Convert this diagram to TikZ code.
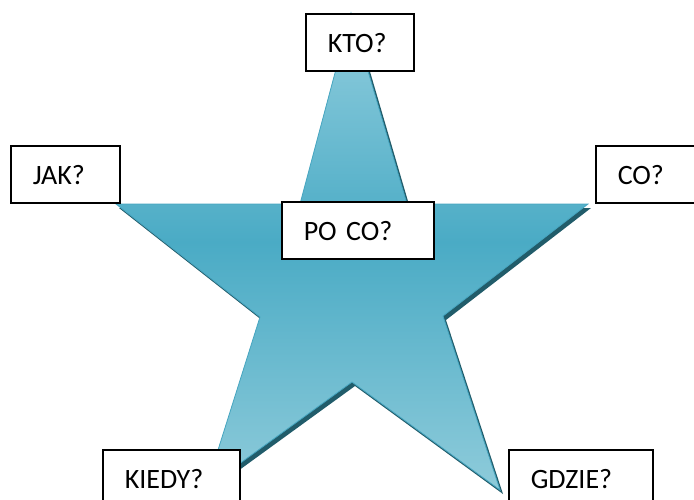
\documentclass[tikz,border=0pt]{standalone}
\usepackage{fontspec}
\setmainfont{Carlito}
\definecolor{starlight}{RGB}{146,206,222}
\definecolor{starlightb}{RGB}{142,203,218}
\definecolor{stardark}{RGB}{74,171,197}
\definecolor{starshadow}{RGB}{33,92,106}
\definecolor{staredge}{RGB}{70,165,192}
\pgfdeclareverticalshading{starshade}{100bp}{color(0bp)=(starlightb); color(25bp)=(starlightb); color(51bp)=(stardark); color(75bp)=(starlight); color(100bp)=(starlight)}
\tikzset{
  qbox/.style={draw=black, line width=1.5pt, fill=white, anchor=north west,
    minimum height=57pt, inner ysep=0pt, inner xsep=22pt, align=left,
    text height=21pt, text depth=0pt, font=\fontsize{28}{33}\selectfont},
}
\begin{document}
\begin{tikzpicture}[x=1pt,y=-1pt]
\useasboundingbox (0,0) rectangle (694,499);
\clip (0,0) rectangle (694,499);
% star shadow
\fill[starshadow, shift={(3,4)}] (351,13) -- (407,204) -- (588,204) -- (443,316) -- (500,490) -- (352,382) -- (206,488) -- (260,317) -- (116,204) -- (300,204) -- cycle;
% star
\shade[shading=starshade, draw=staredge, line width=0.8pt] (351,13) -- (407,204) -- (588,204) -- (443,316) -- (500,490) -- (352,382) -- (206,488) -- (260,317) -- (116,204) -- (300,204) -- cycle;
% boxes
\node[qbox, minimum width=108pt, text width=64pt] (kto) at (305,13) {KTO?};
\node[qbox, minimum width=109pt, text width=65pt] (jak) at (10,145) {JAK?};
\node[qbox, minimum width=109pt, text width=65pt] (co) at (595,145) {CO?};
\node[qbox, minimum width=152pt, text width=108pt] (poco) at (281,201) {PO CO?};
\node[qbox, minimum width=137pt, text width=93pt] (kiedy) at (102,449) {KIEDY?};
\node[qbox, minimum width=144pt, text width=100pt] (gdzie) at (508,449) {GDZIE?};
\end{tikzpicture}
\end{document}
